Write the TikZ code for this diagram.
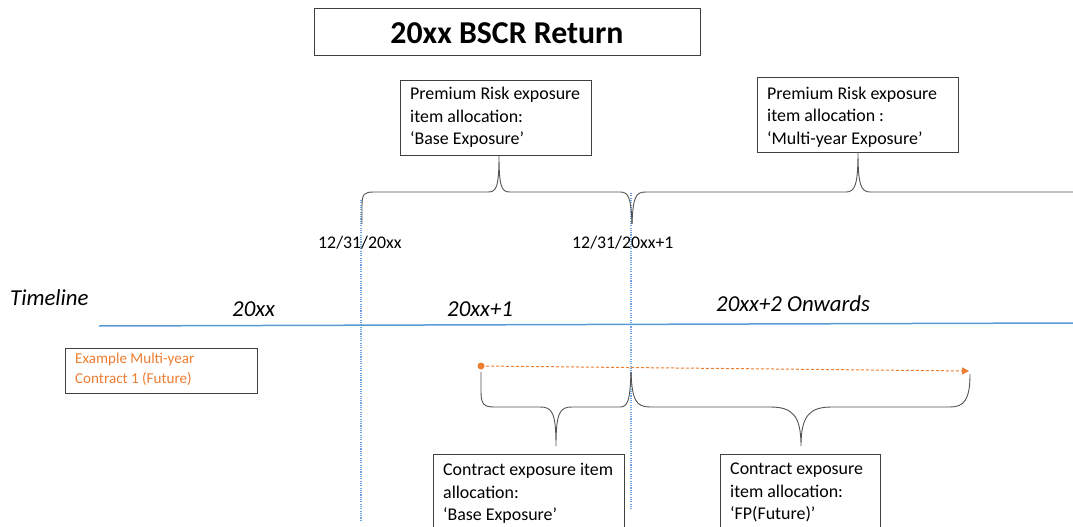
\documentclass[tikz,border=0pt]{standalone}
\usepackage{fontspec}
\setmainfont{Carlito}
\usetikzlibrary{arrows.meta}
\definecolor{tlblue}{RGB}{91,155,213}
\definecolor{dotblue}{RGB}{110,165,225}
\definecolor{orng}{RGB}{237,125,49}
\definecolor{edge}{RGB}{64,64,64}
\tikzset{
  box/.style={draw=edge, line width=0.9pt, inner sep=0pt, align=left, anchor=north west},
  txt/.style={font=\fontsize{17.9}{22.5}\selectfont, inner sep=0pt, anchor=north west, align=left},
  brc/.style={draw=edge!90, line width=0.9pt},
  vdot/.style={draw=dotblue, line width=1.1pt, dash pattern=on 1.1pt off 1.2pt},
  lbl/.style={inner sep=0pt, anchor=west},
  yr/.style={lbl, font=\fontsize{22.8}{26}\selectfont\itshape},
  dt/.style={lbl, font=\fontsize{17.8}{20}\selectfont},
}
\begin{document}
\begin{tikzpicture}[x=1pt,y=-1pt]
\useasboundingbox (0,0) rectangle (1073,527);
% title
\node[box, minimum width=386, minimum height=47] (title) at (314,8) {};
\node[inner sep=0pt, font=\fontsize{31.8}{34}\selectfont\bfseries] (titletxt) at (507,33) {20xx BSCR Return};
% premium risk boxes
\node[box, minimum width=191, minimum height=75] (pr1) at (400,80) {};
\node[txt] (pr1t) at (410,87) {Premium Risk exposure\\item allocation:\\‘Base Exposure’};
\node[box, minimum width=201, minimum height=75] (pr2) at (757,77) {};
\node[txt] (pr2t) at (767,86.5) {Premium Risk exposure\\item allocation :\\‘Multi-year Exposure’};
% dotted verticals
\coordinate (v1t) at (361,200); \coordinate (v1b) at (361,522);
\coordinate (v2t) at (631,193); \coordinate (v2b) at (631,509);
\draw[vdot] (v1t) -- (v1b);
\draw[vdot] (v2t) -- (v2b);
% top braces
\draw[brc] (362,224) -- (362,206) .. controls (362,194) and (364,192) .. (374,192) -- (488,192) .. controls (496,192) and (499,188) .. (499,156) .. controls (499,188) and (502,192) .. (510,192) -- (620,192) .. controls (628,192) and (631,196) .. (632,224);
\draw[brc] (632,224) .. controls (633,196) and (636,192) .. (646,192) -- (846,192) .. controls (855,192) and (858,185) .. (858,152) .. controls (858,185) and (861,192) .. (870,192) -- (1073,192);
% dates
\node[dt] (d1) at (318,243) {12/31/20xx};
\node[dt] (d2) at (572,243) {12/31/20xx+1};
% timeline
\node[yr] (tl) at (10,298) {Timeline};
\node[yr] (y1) at (232,309) {20xx};
\node[yr] (y2) at (447,309) {20xx+1};
\node[yr] (y3) at (716,304) {20xx+2 Onwards};
\coordinate (tla) at (99,326); \coordinate (tlb) at (1073,323);
\draw[tlblue, line width=1.5pt] (tla) -- (tlb);
% example contract
\node[box, minimum width=192, minimum height=45] (ex) at (65,348) {};
\node[inner sep=0pt, anchor=north west, align=left, text=orng, font=\fontsize{15.1}{19.5}\selectfont] (ext) at (75,353) {Example Multi-year\\Contract 1 (Future)};
% orange arrow
\coordinate (oa) at (481,366); \coordinate (ob) at (969,371);
\fill[orng] (oa) circle (3.5);
\draw[orng, line width=1pt, dash pattern=on 3pt off 2pt, -{Triangle[length=7pt,width=7pt]}] (oa) -- (ob);
% bottom braces
\draw[brc] (481,372) -- (481,392) .. controls (481,404) and (484,407) .. (494,407) -- (540,407) .. controls (552,407) and (556,412) .. (556,446) .. controls (556,412) and (560,407) .. (572,407) -- (620,407) .. controls (628,407) and (630,400) .. (631,372);
\draw[brc] (631,372) .. controls (632,400) and (636,407) .. (650,407) -- (770,407) .. controls (792,407) and (801,415) .. (801,446) .. controls (801,415) and (810,407) .. (832,407) -- (950,407) .. controls (964,407) and (970,400) .. (970,374);
% contract boxes
\node[box, minimum width=191, minimum height=90] (cb1) at (433,454) {};
\node[txt] (cb1t) at (443,463) {Contract exposure item\\allocation:\\‘Base Exposure’};
\node[box, minimum width=160, minimum height=90] (cb2) at (720,454) {};
\node[txt] (cb2t) at (730,463) {Contract exposure\\item allocation:\\‘FP(Future)’};
\end{tikzpicture}
\end{document}
